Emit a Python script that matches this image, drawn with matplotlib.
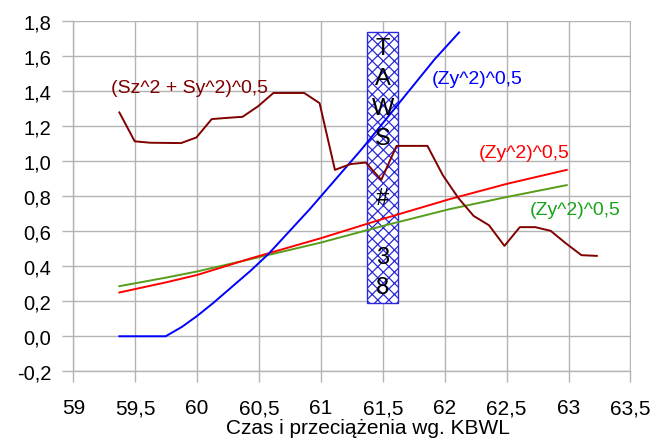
import numpy as np
import matplotlib
matplotlib.use("Agg")
import matplotlib.pyplot as plt
from matplotlib.ticker import FuncFormatter

plt.rcParams['font.family'] = ['Liberation Sans', 'DejaVu Sans']
plt.rcParams['hatch.linewidth'] = 0.9

# (Sz^2 + Sy^2)^0,5  -- dark red
s_x = list(np.round(59.372 + 0.12439 * np.arange(32), 3))
s_y = [1.278, 1.113, 1.105, 1.104, 1.103, 1.135, 1.240, 1.247, 1.253, 1.313,
       1.389, 1.389, 1.389, 1.331, 0.950, 0.983, 0.992, 0.893, 1.087, 1.087,
       1.087, 0.920, 0.790, 0.687, 0.634, 0.516, 0.623, 0.623, 0.602, 0.530,
       0.463, 0.459]

# blue (Zy^2)^0,5
b_x = [59.372, 59.746, 59.876, 60.0, 60.13, 60.43, 60.575, 60.91, 61.33, 61.92, 62.116]
b_y = [0.0, 0.0, 0.053, 0.116, 0.19, 0.373, 0.469, 0.726, 1.069, 1.583, 1.735]

# red (Zy^2)^0,5
r_x = [59.372, 59.75, 60.0, 60.43, 61.0, 61.5, 62.04, 62.5, 62.985]
r_y = [0.250, 0.308, 0.350, 0.444, 0.560, 0.670, 0.783, 0.870, 0.950]

# green (Zy^2)^0,5
g_x = [59.372, 59.75, 60.0, 60.43, 61.0, 61.5, 62.04, 62.5, 62.985]
g_y = [0.286, 0.335, 0.370, 0.440, 0.535, 0.630, 0.726, 0.795, 0.863]

# TAWS marker box
box_x = 61.5
box_w = 0.25
box_lo = 0.19
box_hi = 1.735
box_text = ["T", "A", "W", "S", " ", "#", " ", "3", "8"]

x_ticks = np.arange(59, 63.51, 0.5)
y_ticks = np.arange(-0.2, 1.81, 0.2)

fig = plt.figure(figsize=(6.66, 4.39), dpi=100)
ax = fig.add_axes([73.3/666, 1-372.3/439, (630.5-73.3)/666, (372.3-22)/439])

ax.set_xlim(59, 63.5)
ax.set_ylim(-0.2, 1.8)
ax.set_xticks(x_ticks)
ax.set_yticks(y_ticks)
ax.yaxis.set_major_formatter(FuncFormatter(lambda v, p: f"{v:.1f}".replace(".", ",").replace("-0,0", "0,0")))
ax.xaxis.set_major_formatter(FuncFormatter(lambda v, p: f"{v:g}".replace(".", ",")))
ax.grid(True, color="#b3b3b3", linewidth=1.0, zorder=0)
ax.set_axisbelow(True)
for sp in ["top", "right"]:
    ax.spines[sp].set_visible(False)
for sp in ["left", "bottom"]:
    ax.spines[sp].set_color("#b3b3b3")
    ax.spines[sp].set_linewidth(1.0)
ax.tick_params(axis="both", length=8, width=1.0, color="#b3b3b3")
ax.tick_params(axis="y", labelsize=14.5, pad=8)
ax.tick_params(axis="x", labelsize=15, pad=11.5)

ax.bar([box_x], [box_hi - box_lo], bottom=box_lo, width=box_w, facecolor="white",
       edgecolor="#2a2ad8", hatch="xxx", linewidth=1.0, zorder=2)
ax.text(box_x, (box_lo + box_hi) / 2, "\n".join(box_text), ha="center", va="center",
        fontsize=17, linespacing=1.465, zorder=5)

ax.plot(g_x, g_y, color="#579d1c", lw=1.4, zorder=3)
ax.plot(r_x, r_y, color="#ff0000", lw=1.4, zorder=3)
ax.plot(b_x, b_y, color="#0000ff", lw=1.4, zorder=3)
ax.plot(s_x, s_y, color="#800000", lw=1.4, zorder=3)

ax.text(59.302, 1.423, "(Sz^2 + Sy^2)^0,5", color="#800000", fontsize=14, va="center", ha="left")
ax.text(61.895, 1.473, "(Zy^2)^0,5", color="#0000ff", fontsize=14, va="center", ha="left")
ax.text(62.271, 1.05, "(Zy^2)^0,5", color="#ff0000", fontsize=14, va="center", ha="left")
ax.text(62.689, 0.722, "(Zy^2)^0,5", color="#1aa31a", fontsize=14, va="center", ha="left")

ax.set_xlabel("Czas i przeciążenia wg. KBWL", fontsize=15)
ax.xaxis.set_label_coords((368 - 73.3) / (630.5 - 73.3), -(419.5 - 372.3) / (372.3 - 22))

fig.savefig("out.png", dpi=100)
